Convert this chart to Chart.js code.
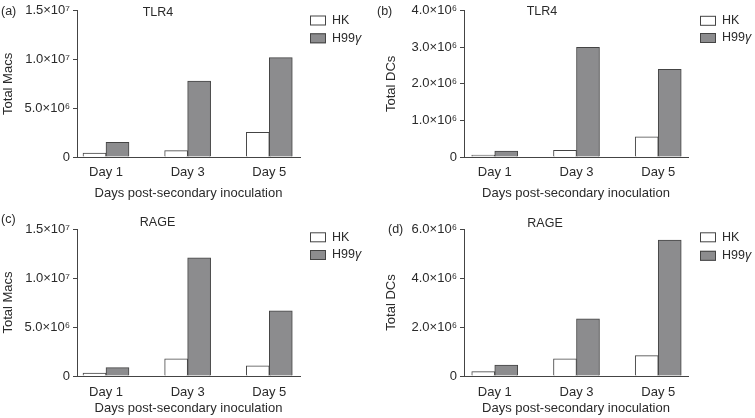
<!DOCTYPE html>
<html>
<head>
<meta charset="utf-8">
<script src="https://cdn.jsdelivr.net/npm/chart.js@4"></script>
<style>
  html, body { margin: 0; padding: 0; background: #fff; }
  body { width: 755px; height: 418px; position: relative; overflow: hidden; }
  .panel { position: absolute; }
</style>
</head>
<body>
<div class="panel" style="left:0;top:0;"><canvas id="ca" width="375" height="205"></canvas></div>
<div class="panel" style="left:375px;top:0;"><canvas id="cb" width="380" height="205"></canvas></div>
<div class="panel" style="left:0;top:205px;"><canvas id="cc" width="375" height="213"></canvas></div>
<div class="panel" style="left:375px;top:205px;"><canvas id="cd" width="380" height="213"></canvas></div>
<script>
// ---- data ----
const categories = ['Day 1', 'Day 3', 'Day 5'];
const seriesNames = ['HK', 'H99γ'];

const tlr4MacsHK   = [0.40e6, 0.65e6, 2.52e6];
const tlr4MacsH99  = [1.50e6, 7.80e6, 10.2e6];
const tlr4DCsHK    = [0.05e6, 0.18e6, 0.55e6];
const tlr4DCsH99   = [0.16e6, 3.00e6, 2.40e6];
const rageMacsHK   = [0.30e6, 1.75e6, 1.05e6];
const rageMacsH99  = [0.85e6, 12.05e6, 6.65e6];
const rageDCsHK    = [0.18e6, 0.70e6, 0.83e6];
const rageDCsH99   = [0.45e6, 2.33e6, 5.55e6];

const macsTicks = [0, 5e6, 10e6, 15e6];
const macsTickLabels = ['0', '5.0×10⁶', '1.0×10⁷', '1.5×10⁷'];
const dcsTicksB = [0, 1e6, 2e6, 3e6, 4e6];
const dcsTickLabelsB = ['0', '1.0×10⁶', '2.0×10⁶', '3.0×10⁶', '4.0×10⁶'];
const dcsTicksD = [0, 2e6, 4e6, 6e6];
const dcsTickLabelsD = ['0', '2.0×10⁶', '4.0×10⁶', '6.0×10⁶'];

const xTitle = 'Days post-secondary inoculation';

// ---- styles ----
const FONT = "'Liberation Sans', Arial, Helvetica, sans-serif";
const TEXT = '#2a2a2a';
const LINE = '#444';
Chart.defaults.font.family = FONT;
Chart.defaults.color = TEXT;

const panelTextPlugin = {
  id: 'panelText',
  afterDraw(chart, args, o) {
    const ctx = chart.ctx;
    ctx.save();
    ctx.fillStyle = TEXT;
    ctx.font = '12.5px ' + FONT;
    ctx.textBaseline = 'middle';
    ctx.textAlign = 'left';
    ctx.fillText(o.letter, o.lx, o.ly);
    ctx.textAlign = 'center';
    ctx.fillText(o.title, o.tx, o.ty);
    // legend from datasets
    const ds = chart.data.datasets;
    ds.forEach((d, i) => {
      const y = o.legY[i];
      ctx.fillStyle = d.backgroundColor;
      ctx.fillRect(o.legX, y - 5, 16, 10);
      ctx.strokeStyle = d.borderColor;
      ctx.lineWidth = 1;
      ctx.strokeRect(o.legX + 0.5, y - 4.5, 15, 9);
      ctx.fillStyle = TEXT;
      ctx.textAlign = 'left';
      let x = o.legX + 22;
      for (const ch of d.label) {
        const greek = /[\u0370-\u03ff]/.test(ch);
        ctx.font = (greek ? 'italic ' : '') + '12.5px ' + FONT;
        ctx.fillText(ch, x, y);
        x += ctx.measureText(ch).width;
      }
    });
    ctx.restore();
  }
};

function makePanel(id, hk, h99, cfg) {
  const toPts = arr => arr.map((v, i) => ({ x: i + 1, y: v }));
  return new Chart(document.getElementById(id), {
    type: 'bar',
    data: {
      datasets: [
        { label: seriesNames[0], data: toPts(hk), backgroundColor: '#ffffff', borderColor: LINE, borderWidth: 1, barThickness: 23 },
        { label: seriesNames[1], data: toPts(h99), backgroundColor: '#8c8c8e', borderColor: LINE, borderWidth: 1, barThickness: 23 }
      ]
    },
    options: {
      responsive: false,
      animation: false,
      layout: { padding: { left: 0, top: cfg.top, right: cfg.right, bottom: 0 } },
      plugins: {
        legend: { display: false },
        tooltip: { enabled: false },
        panelText: cfg.text
      },
      scales: {
        x: {
          type: 'linear',
          offset: false,
          min: cfg.xmin, max: cfg.xmax,
          afterBuildTicks: s => { s.ticks = categories.map((c, i) => ({ value: i + 1 })); },
          afterFit: s => { s.height = cfg.xh; },
          grid: { display: false, drawTicks: false, offset: false },
          border: { display: true, color: LINE, width: 1 },
          ticks: { callback: (v, i) => categories[i], padding: cfg.xpad, maxRotation: 0, autoSkip: false, font: { size: 13 }, color: TEXT },
          title: { display: true, text: xTitle, font: { size: 13 }, color: TEXT, padding: { top: 0, bottom: cfg.xtpad } }
        },
        y: {
          min: 0, max: cfg.ymax,
          afterBuildTicks: s => { s.ticks = cfg.yticks.map(v => ({ value: v })); },
          afterFit: s => { s.width = cfg.yw; },
          grid: { drawOnChartArea: false, drawTicks: true, tickLength: 4, color: LINE },
          border: { display: true, color: LINE, width: 1 },
          ticks: { callback: (v, i) => cfg.ylabels[i], padding: 3, font: { size: 13 }, color: TEXT },
          title: { display: true, text: cfg.ytitle, font: { size: 13 }, color: TEXT, padding: { top: cfg.ytpad, bottom: 0 } }
        }
      }
    },
    plugins: [panelTextPlugin]
  });
}

makePanel('ca', tlr4MacsHK, tlr4MacsH99, {
  top: 10, right: 75, xh: 48, yw: 77, xmin: 0.645, xmax: 3.376, xpad: 8, xtpad: 4, ytpad: 0.5,
  ymax: 15e6, yticks: macsTicks, ylabels: macsTickLabels, ytitle: 'Total Macs',
  text: { letter: '(a)', lx: 1, ly: 12, title: 'TLR4', tx: 158, ty: 13, legX: 310, legY: [20.5, 38.3] }
});
makePanel('cb', tlr4DCsHK, tlr4DCsH99, {
  top: 10, right: 67, xh: 48, yw: 89, xmin: 0.624, xmax: 3.364, xpad: 8, xtpad: 4, ytpad: 9,
  ymax: 4e6, yticks: dcsTicksB, ylabels: dcsTickLabelsB, ytitle: 'Total DCs',
  text: { letter: '(b)', lx: 2, ly: 12, title: 'TLR4', tx: 167, ty: 12, legX: 325, legY: [20.8, 38] }
});
makePanel('cc', rageMacsHK, rageMacsH99, {
  top: 24, right: 75, xh: 42, yw: 77, xmin: 0.645, xmax: 3.376, xpad: 9, xtpad: 2, ytpad: 0.5,
  ymax: 15e6, yticks: macsTicks, ylabels: macsTickLabels, ytitle: 'Total Macs',
  text: { letter: '(c)', lx: 1, ly: 15, title: 'RAGE', tx: 157.5, ty: 18, legX: 310, legY: [32.3, 50] }
});
makePanel('cd', rageDCsHK, rageDCsH99, {
  top: 24, right: 67, xh: 42, yw: 89, xmin: 0.624, xmax: 3.364, xpad: 9, xtpad: 2, ytpad: 9,
  ymax: 6e6, yticks: dcsTicksD, ylabels: dcsTickLabelsD, ytitle: 'Total DCs',
  text: { letter: '(d)', lx: 13, ly: 25, title: 'RAGE', tx: 170, ty: 19, legX: 325, legY: [32.3, 50.8] }
});
</script>
</body>
</html>
